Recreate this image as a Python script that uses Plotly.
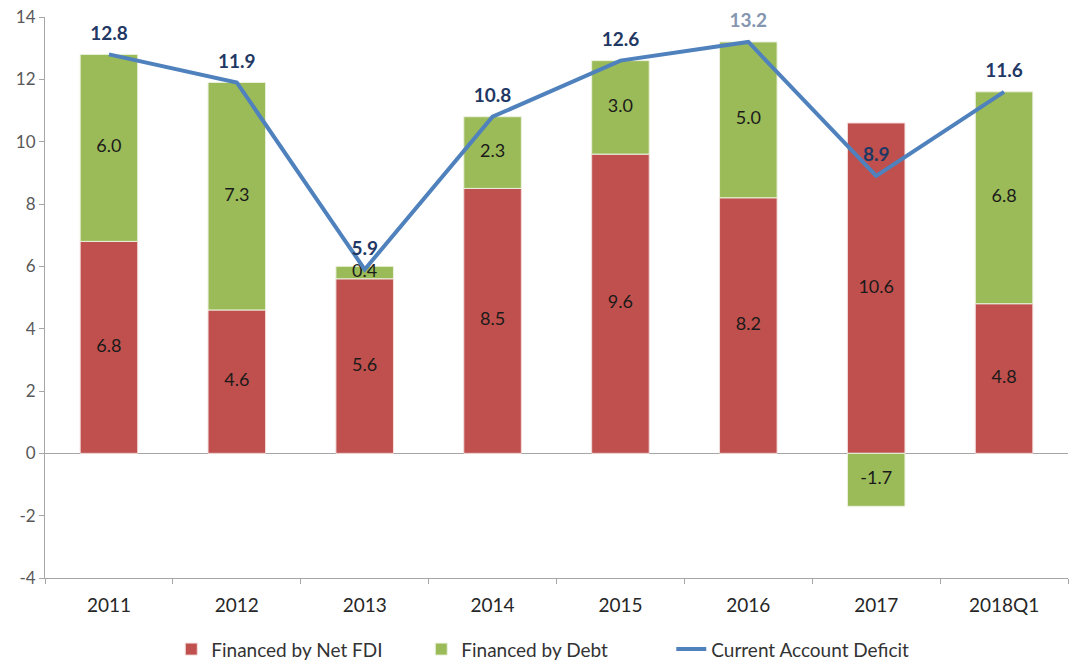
import plotly.graph_objects as go

categories = ["2011", "2012", "2013", "2014", "2015", "2016", "2017", "2018Q1"]
fdi = [6.8, 4.6, 5.6, 8.5, 9.6, 8.2, 10.6, 4.8]
debt = [6.0, 7.3, 0.4, 2.3, 3.0, 5.0, -1.7, 6.8]
cad = [12.8, 11.9, 5.9, 10.8, 12.6, 13.2, 8.9, 11.6]
y_ticks = [-4, -2, 0, 2, 4, 6, 8, 10, 12, 14]
y_tick_text = ["-4", "-2", "0", "2", "4", "6", "8", "10", "12", "14"]

RED = "#C0504D"
GREEN = "#9BBB59"
BLUE = "#4F81BD"
FONT = "Lato, 'Open Sans', sans-serif"

fig = go.Figure()
fig.add_trace(go.Bar(x=categories, y=fdi, name="Financed by Net FDI",
                     marker=dict(color=RED, line=dict(color="#F2DCDB", width=1))))
fig.add_trace(go.Bar(x=categories, y=debt, name="Financed by Debt",
                     marker=dict(color=GREEN, line=dict(color="#EBF1DE", width=1))))

# bar labels at segment midpoints (derived from the data)
fdi_mid = [v / 2 for v in fdi]
debt_mid = [(d / 2) if d < 0 else (f + d / 2) for f, d in zip(fdi, debt)]
fig.add_trace(go.Scatter(x=categories, y=fdi_mid, mode="text",
                         text=[f"{v:.1f}" for v in fdi], showlegend=False,
                         textfont=dict(size=18, color="#1a1a1a", family=FONT),
                         hoverinfo="skip", cliponaxis=False))
fig.add_trace(go.Scatter(x=categories, y=debt_mid, mode="text",
                         text=[f"{v:.1f}" for v in debt], showlegend=False,
                         textfont=dict(size=18, color="#1a1a1a", family=FONT),
                         hoverinfo="skip", cliponaxis=False))

fig.add_trace(go.Scatter(x=categories, y=cad, name="Current Account Deficit",
                         mode="lines", line=dict(color=BLUE, width=4)))

label_colors = ["#1F3864"] * len(cad)
label_colors[5] = "#8496B0"
fig.add_trace(go.Scatter(x=categories, y=cad, mode="markers+text", showlegend=False,
                         marker=dict(size=14, opacity=0, color=BLUE),
                         text=[f"{v:.1f}" for v in cad], textposition="top center",
                         textfont=dict(size=19, color=label_colors, family=FONT, weight="bold"),
                         hoverinfo="skip", cliponaxis=False))

fig.update_layout(
    barmode="relative",
    bargap=0.55,
    width=1078, height=664,
    margin=dict(l=45, r=10, t=17, b=86, autoexpand=False),
    plot_bgcolor="white", paper_bgcolor="white",
    font=dict(family=FONT, size=16, color="#404040"),
    showlegend=True,
    legend=dict(orientation="h", x=0.49, xanchor="center", y=-0.127, yanchor="middle",
                font=dict(size=19, color="#333333"), traceorder="normal",
                entrywidth=205, entrywidthmode="pixels"),
    xaxis=dict(showline=True, linecolor="#A6A6A6", linewidth=1, ticks="outside",
               tickson="boundaries", ticklen=5, tickcolor="#A6A6A6",
               tickfont=dict(size=19, color="#262626"), anchor="y",
               ticklabelstandoff=10, zeroline=False, automargin=False),
    yaxis=dict(range=[-4, 14], tickvals=y_ticks, ticktext=y_tick_text, showgrid=False,
               showline=True, linecolor="#A6A6A6", ticks="outside", ticklen=5,
               tickcolor="#A6A6A6", tickfont=dict(size=17, color="#595959"),
               zeroline=True, zerolinecolor="#A6A6A6", zerolinewidth=1,
               automargin=False),
)

fig.write_html("out.html", config={"displayModeBar": False},
               post_script="document.body.style.margin='0';")
